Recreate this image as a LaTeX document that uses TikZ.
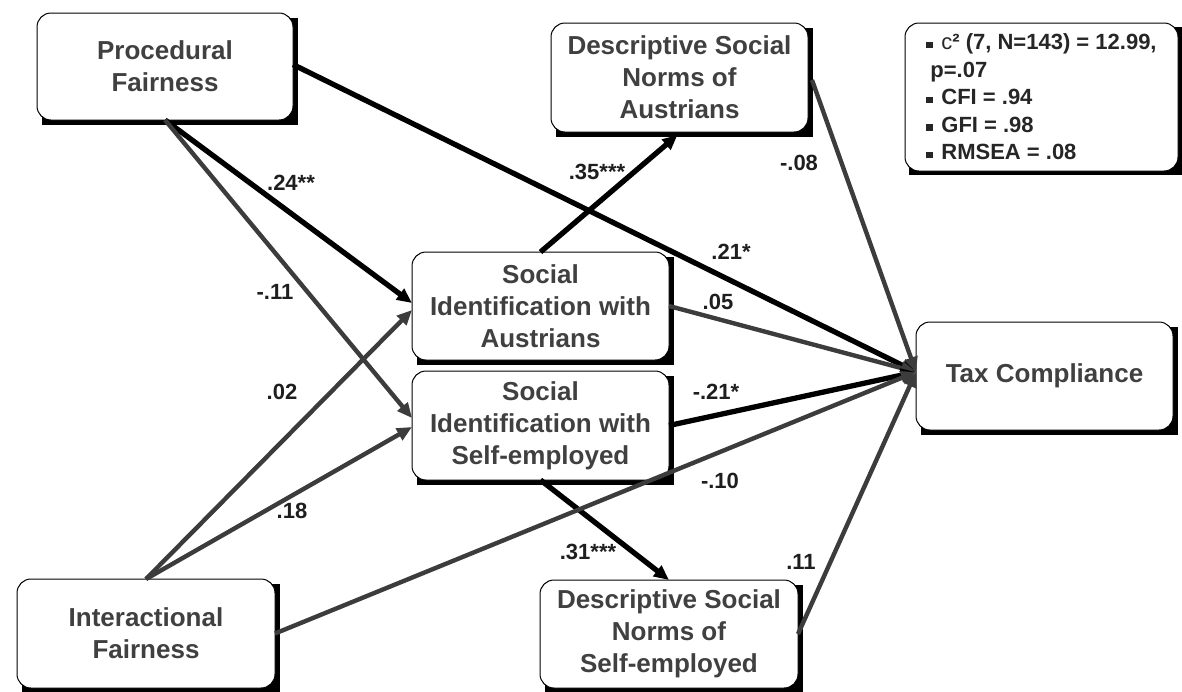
\documentclass[tikz,border=0pt]{standalone}
\usepackage{fontspec}
\setmainfont{Liberation Sans}
\usetikzlibrary{arrows.meta}
\definecolor{txt}{HTML}{404040}
\definecolor{lg}{HTML}{3C3C3C}
\definecolor{lbl}{HTML}{1E1E1E}
\definecolor{stat}{HTML}{262626}
\pgfdeclarelayer{background}
\pgfsetlayers{background,main}
\tikzset{
  box/.style={draw=black, line width=1pt, fill=white, rounded corners=14pt,
    minimum width=257pt, minimum height=108pt, inner sep=0pt, outer sep=0pt,
    align=center, text=txt, font=\fontsize{26}{32}\selectfont\bfseries},
  lbl/.style={text=lbl, font=\fontsize{22}{26}\selectfont\bfseries, inner sep=0pt},
  blk/.style={draw=black, line width=5.3pt, -{Triangle[length=15pt,width=13pt]}},
  gry/.style={draw=lg, line width=4.4pt, -{Triangle[length=15pt,width=13pt]}},
}
\newcommand{\bul}{\rule[1.5pt]{6.5pt}{6.5pt}\hspace{8.5pt}}
\begin{document}
\begin{tikzpicture}[x=1pt,y=-1pt]
\useasboundingbox (0,0) rectangle (1182,691);
% boxes
\node[box, minimum width=256pt, minimum height=107pt] (PF) at (165,66.5) {Procedural\\Fairness};
\node[box, minimum width=258pt, minimum height=109pt] (IF) at (146,633.5) {Interactional\\Fairness};
\node[box, minimum height=109pt] (DSNA) at (679.5,77.5) {Descriptive Social\\Norms of\\Austrians};
\node[box] (SIA) at (540.5,306) {Social\\Identification with\\Austrians};
\node[box, minimum height=109pt] (SIS) at (540.5,425.5) {Social\\Identification with\\Self-employed};
\node[box] (TC) at (1044.5,376) {Tax Compliance};
\node[box, minimum width=258pt] (DSNS) at (669,634) {Descriptive Social\\Norms of\\Self-employed};
\node[box, minimum width=273pt, minimum height=148pt, align=left, text=stat,
  font=\fontsize{22}{27.5}\selectfont\bfseries] (ST) at (1041.5,97)
  {\bul{\mdseries c}² (7, N=143) = 12.99,\\
   \hspace*{4pt}p=.07\\
   \bul CFI = .94\\
   \bul GFI = .98\\
   \bul RMSEA = .08};
% shadows
\begin{pgfonlayer}{background}
\foreach \n in {PF,IF,DSNA,SIA,SIS,TC,DSNS}
  \fill[black] ([shift={(4.5pt,-4.5pt)}]\n.north west) rectangle ([shift={(4.5pt,-4.5pt)}]\n.south east);
\fill[black] ([shift={(4pt,-4pt)}]ST.north west) rectangle ([shift={(4pt,-4pt)}]ST.south east);
\end{pgfonlayer}
% target point on Tax Compliance
\coordinate (tcin) at ([yshift=4pt]TC.west);
% connectors
\draw[blk] (PF.south) -- ([yshift=3pt]SIA.west);
\draw[gry] (PF.south) -- ([yshift=7.5pt]SIS.west);
\draw[gry] (IF.north) -- ([yshift=-4pt]SIA.west);
\draw[gry] (IF.north) -- ([yshift=-1.5pt]SIS.west);
\draw[blk] ([yshift=2pt]PF.east) -- (tcin);
\draw[blk] (SIA.north) -- ([shift={(-2pt,-3pt)}]DSNA.south);
\draw[blk] (SIS.south) -- (DSNS.north);
\draw[gry] (SIA.east) -- (tcin);
\draw[blk] (SIS.east) -- (tcin);
\draw[gry] (IF.east) -- (tcin);
\draw[gry] ([shift={(4pt,-2.5pt)}]DSNA.east) -- (tcin);
\draw[gry] (DSNS.east) -- (tcin);
% labels
\node[lbl] (l1) at (291,183) {.24**};
\node[lbl] (l2) at (275,292) {-.11};
\node[lbl] (l3) at (282,392) {.02};
\node[lbl] (l4) at (292,511) {.18};
\node[lbl] (l5) at (597,172) {.35***};
\node[lbl] (l6) at (799,163) {-.08};
\node[lbl] (l7) at (731,252) {.21*};
\node[lbl] (l8) at (718,302) {.05};
\node[lbl] (l9) at (716,392) {-.21*};
\node[lbl] (l10) at (720,481) {-.10};
\node[lbl] (l11) at (801,562) {.11};
\node[lbl] (l12) at (588,552) {.31***};
\end{tikzpicture}
\end{document}
